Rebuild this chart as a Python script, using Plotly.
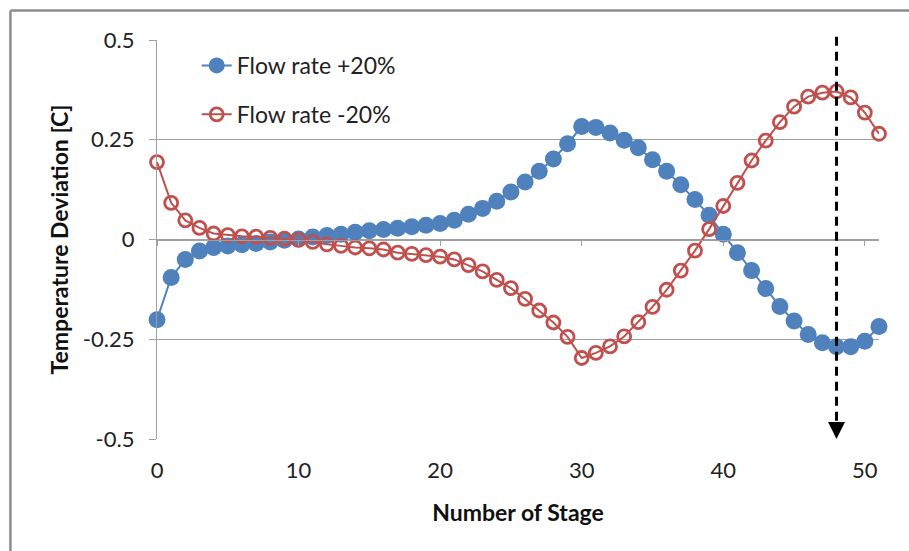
import plotly.graph_objects as go

# Stage numbers along the column
stages = list(range(0, 52))

# Temperature deviation [C] for each stage
flow_plus_20 = [
    -0.201, -0.095, -0.050, -0.029, -0.020, -0.016, -0.013, -0.010, -0.006, -0.002,
    0.001, 0.006, 0.010, 0.013, 0.018, 0.022, 0.025, 0.028, 0.032, 0.036,
    0.040, 0.048, 0.063, 0.078, 0.096, 0.119, 0.144, 0.171, 0.202, 0.240,
    0.283, 0.281, 0.267, 0.249, 0.230, 0.200, 0.171, 0.137, 0.100, 0.061,
    0.013, -0.033, -0.078, -0.123, -0.168, -0.204, -0.238, -0.259, -0.269, -0.269,
    -0.255, -0.218,
]
flow_minus_20 = [
    0.194, 0.092, 0.048, 0.029, 0.015, 0.011, 0.008, 0.007, 0.004, 0.002,
    -0.001, -0.006, -0.012, -0.016, -0.020, -0.022, -0.025, -0.033, -0.036, -0.039,
    -0.043, -0.050, -0.064, -0.080, -0.101, -0.122, -0.149, -0.178, -0.208, -0.244,
    -0.297, -0.284, -0.268, -0.243, -0.207, -0.169, -0.126, -0.078, -0.028, 0.026,
    0.084, 0.142, 0.198, 0.248, 0.294, 0.333, 0.358, 0.368, 0.371, 0.356,
    0.318, 0.265,
]

series_names = ["Flow rate +20%", "Flow rate -20%"]

x_tick_vals = [0, 10, 20, 30, 40, 50]
y_tick_vals = [-0.5, -0.25, 0, 0.25, 0.5]
y_tick_text = ["-0.5", "-0.25", "0", "0.25", "0.5"]

marked_stage = 48

BLUE = "#4F81BD"
RED = "#C0504D"
GRID = "#A0A0A0"
FONT = "Lato, Liberation Sans, Arial, sans-serif"

fig = go.Figure()

fig.add_trace(go.Scatter(
    x=stages, y=flow_plus_20, name=series_names[0], legendgroup="a",
    mode="lines+markers", cliponaxis=False,
    line=dict(color=BLUE, width=2),
    marker=dict(symbol="circle", size=17, color=BLUE),
))
fig.add_trace(go.Scatter(
    x=stages, y=flow_minus_20, name=series_names[1], legendgroup="b",
    mode="lines+markers", cliponaxis=False,
    line=dict(color=RED, width=2),
    marker=dict(symbol="circle-open", size=13, color=RED, line=dict(width=2.8, color=RED)),
))

# Horizontal axis line through y = 0 carrying the tick marks
fig.add_trace(go.Scatter(
    x=[marked_stage], y=[0], xaxis="x2", yaxis="y", mode="markers",
    marker=dict(size=0.1, opacity=0), showlegend=False, hoverinfo="skip",
))

fig.update_layout(
    width=909, height=551,
    margin=dict(l=157, r=30, t=40, b=112),
    paper_bgcolor="white", plot_bgcolor="white",
    font=dict(family=FONT, size=22, color="#222222"),
    showlegend=True,
    legend=dict(
        x=0.055, y=0.99, xanchor="left", yanchor="top",
        bgcolor="rgba(0,0,0,0)", font=dict(size=23, color="#222222"),
        traceorder="grouped", tracegroupgap=16,
    ),
    xaxis=dict(
        range=[0, 51], tickvals=x_tick_vals, showgrid=False, zeroline=False,
        showline=False, ticks="", ticklabelstandoff=16,
        title=dict(text="<b>Number of Stage</b>", font=dict(size=23, color="#111111"), standoff=22),
    ),
    xaxis2=dict(
        range=[0, 51], tickvals=x_tick_vals, overlaying="x", anchor="free", position=0.5,
        side="bottom", showgrid=False, zeroline=False, showticklabels=False,
        showline=True, linecolor=GRID, linewidth=1.3,
        ticks="outside", ticklen=5, tickcolor=GRID, tickwidth=1.3,
    ),
    yaxis=dict(
        range=[-0.5, 0.5], tickvals=y_tick_vals, ticktext=y_tick_text,
        showgrid=True, gridcolor=GRID, gridwidth=1.3,
        zeroline=False, showline=True, linecolor=GRID, linewidth=1.3,
        ticks="outside", ticklen=7, tickcolor=GRID, tickwidth=1.3,
        ticklabelstandoff=10,
        title=dict(text="<b>Temperature Deviation [C]</b>", font=dict(size=23, color="#111111"), standoff=7),
    ),
)

# Dashed marker line at the selected stage
fig.add_shape(
    type="line", xref="x", yref="paper",
    x0=marked_stage, x1=marked_stage, y0=1.008, y1=0.03,
    line=dict(color="black", width=3, dash="9px,6px"),
)
fig.add_annotation(
    x=marked_stage, y=-0.5, xref="x", yref="y",
    ax=0, ay=-14, showarrow=True, arrowhead=2, arrowsize=1.3,
    arrowwidth=2.6, arrowcolor="black", standoff=0, text="",
)

# Outer chart frame
fig.add_shape(type="line", xref="paper", yref="paper", x0=-0.203, x1=1.2, y0=1.074, y1=1.074,
              line=dict(color="#8C8C8C", width=2.5))
fig.add_shape(type="line", xref="paper", yref="paper", x0=-0.203, x1=-0.203, y0=1.074, y1=-0.4,
              line=dict(color="#8C8C8C", width=2.5))

fig.write_html("out.html")
